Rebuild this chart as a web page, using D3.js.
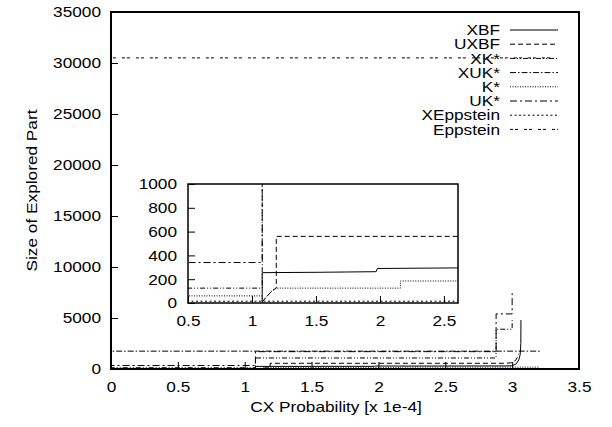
<!DOCTYPE html>
<html>
<head>
<meta charset="utf-8">
<script src="https://cdn.jsdelivr.net/npm/d3@7/dist/d3.min.js"></script>
<style>
  body { margin: 0; background: #fff; }
  text { font-family: "Liberation Sans", Arial, Helvetica, sans-serif; font-size: 15px; fill: #000; }
</style>
</head>
<body>
<div id="chart"></div>
<script>
//////////
// DATA //
//////////

var seriesNames = ["XBF", "UXBF", "XK*", "XUK*", "K*", "UK*", "XEppstein", "Eppstein"];

// each series is a step curve (x in 1e-4)
var xbfX = [1.08, 1.08, 1.5, 1.97, 1.98, 2.6, 2.95, 3.0, 3.03, 3.05, 3.06, 3.065, 3.066];
var xbfY = [0, 255, 258, 263, 290, 295, 300, 320, 500, 900, 1400, 2500, 4800];

var uxbfX = [1.08, 1.12, 1.16, 1.19, 1.19, 2.95, 3.0, 3.03, 3.05];
var uxbfY = [10, 60, 105, 125, 560, 560, 620, 900, 1500];

var xkX = [0, 0, 1.08, 1.08, 2.88, 2.88, 3.0, 3.0];
var xkY = [0, 125, 125, 1080, 1080, 3900, 3900, 4800];

var xukX = [0, 0, 3.22];
var xukY = [0, 1750, 1750];

var kX = [0, 1.08, 1.08, 1.12, 1.16, 1.19, 2.16, 2.16, 3.2];
var kY = [60, 60, 10, 60, 105, 125, 125, 185, 185];

var ukX = [0, 0, 1.08, 1.08, 2.88, 2.88, 3.0, 3.0];
var ukY = [0, 340, 340, 1700, 1700, 5400, 5400, 7700];

var xeppX = [0, 3.2];
var xeppY = [15, 15];

var eppX = [0, 0, 3.3];
var eppY = [0, 30500, 30500];

var xTicks = [0, 0.5, 1, 1.5, 2, 2.5, 3, 3.5];
var yTicks = [0, 5000, 10000, 15000, 20000, 25000, 30000, 35000];
var insetXTicks = [0.5, 1, 1.5, 2, 2.5];
var insetYTicks = [0, 200, 400, 600, 800, 1000];

var seriesX = [xbfX, uxbfX, xkX, xukX, kX, ukX, xeppX, eppX];
var seriesY = [xbfY, uxbfY, xkY, xukY, kY, ukY, xeppY, eppY];

// gnuplot-ish dash styles
var dashes = {
  "XBF": null,
  "UXBF": "5,3",
  "XK*": "5,2,1,2,1,2",
  "XUK*": "6,2,1.5,2",
  "K*": "1,1.5",
  "UK*": "7,3,2,3",
  "XEppstein": "2,2.5",
  "Eppstein": "3,2,3,6"
};

var series = seriesNames.map(function (name, i) {
  return {
    name: name,
    points: seriesX[i].map(function (x, j) { return [x, seriesY[i][j]]; })
  };
});

//////////////////////////////
// SVG AND GRAPH DIMENSIONS //
//////////////////////////////

var svgWidth = 612, svgHeight = 427;
var margin = { top: 12, right: 33, bottom: 58, left: 111 };
var width = svgWidth - margin.left - margin.right,
    height = svgHeight - margin.top - margin.bottom;

var svg = d3.select("#chart")
  .append("svg")
  .attr("width", svgWidth)
  .attr("height", svgHeight);

var g = svg.append("g")
  .attr("transform", "translate(" + margin.left + "," + margin.top + ")");

var x = d3.scaleLinear().domain([0, 3.5]).range([0, width]);
var y = d3.scaleLinear().domain([0, 35000]).range([height, 0]);

svg.append("defs").append("clipPath")
  .attr("id", "clipMain")
  .append("rect")
  .attr("width", width)
  .attr("height", height);

//////////
// AXES //
//////////

function styleAxis(sel) {
  sel.select(".domain").remove();
  sel.selectAll(".tick line").attr("stroke", "#000").attr("stroke-width", 1);
  sel.selectAll(".tick text").style("font-size", "15px").attr("fill", "#000");
}

g.append("g")
  .attr("transform", "translate(0," + height + ")")
  .call(d3.axisBottom(x).tickValues(xTicks).tickFormat(d3.format("")).tickSizeInner(-7).tickPadding(12))
  .call(styleAxis);

g.append("g")
  .call(d3.axisLeft(y).tickValues(yTicks).tickFormat(d3.format("")).tickSizeInner(-7).tickPadding(10))
  .call(styleAxis);

svg.append("text")
  .attr("transform", "translate(32," + (margin.top + height / 2) + ") rotate(-90) scale(1.15,1)")
  .attr("text-anchor", "middle")
  .attr("dy", "0.35em")
  .text("Size of Explored Part");

svg.append("text")
  .attr("x", 336)
  .attr("y", 412)
  .attr("text-anchor", "middle")
  .text("CX Probability [x 1e-4]");

///////////
// LINES //
///////////

var line = d3.line()
  .x(function (d) { return x(d[0]); })
  .y(function (d) { return y(d[1]); });

g.append("g")
  .attr("clip-path", "url(#clipMain)")
  .selectAll("path")
  .data(series)
  .enter().append("path")
  .attr("d", function (d) { return line(d.points); })
  .attr("fill", "none")
  .attr("stroke", "#000")
  .attr("stroke-width", 1)
  .attr("stroke-dasharray", function (d) { return dashes[d.name]; });

g.append("rect")
  .attr("width", width)
  .attr("height", height)
  .attr("fill", "none")
  .attr("stroke", "#000")
  .attr("stroke-width", 2);

////////////
// LEGEND //
////////////

var legend = svg.append("g").attr("transform", "translate(500,30)");

var rows = legend.selectAll("g")
  .data(series)
  .enter().append("g")
  .attr("transform", function (d, i) { return "translate(0," + (i * 14.2) + ")"; });

rows.append("text")
  .attr("text-anchor", "end")
  .attr("dy", "0.35em")
  .text(function (d) { return d.name; });

rows.append("line")
  .attr("x1", 10)
  .attr("x2", 58)
  .attr("stroke", "#000")
  .attr("stroke-width", 1)
  .attr("stroke-dasharray", function (d) { return dashes[d.name]; });

///////////
// INSET //
///////////

var inset = { left: 188, top: 184, right: 458, bottom: 303 };
var iw = inset.right - inset.left, ih = inset.bottom - inset.top;

var ix = d3.scaleLinear().domain([0.5, 2.61]).range([0, iw]);
var iy = d3.scaleLinear().domain([0, 1000]).range([ih, 0]);

svg.append("defs").append("clipPath")
  .attr("id", "clipInset")
  .append("rect")
  .attr("width", iw)
  .attr("height", ih);

var gi = svg.append("g")
  .attr("transform", "translate(" + inset.left + "," + inset.top + ")");

gi.append("rect")
  .attr("width", iw)
  .attr("height", ih)
  .attr("fill", "#fff");

gi.append("g")
  .attr("transform", "translate(0," + ih + ")")
  .call(d3.axisBottom(ix).tickValues(insetXTicks).tickFormat(d3.format("")).tickSizeInner(-7).tickPadding(12))
  .call(styleAxis);

gi.append("g")
  .call(d3.axisLeft(iy).tickValues(insetYTicks).tickFormat(d3.format("")).tickSizeInner(-7).tickPadding(11))
  .call(styleAxis);

var iline = d3.line()
  .x(function (d) { return ix(d[0]); })
  .y(function (d) { return iy(d[1]); });

gi.append("g")
  .attr("clip-path", "url(#clipInset)")
  .selectAll("path")
  .data(series)
  .enter().append("path")
  .attr("d", function (d) { return iline(d.points); })
  .attr("fill", "none")
  .attr("stroke", "#000")
  .attr("stroke-width", 1)
  .attr("stroke-dasharray", function (d) { return dashes[d.name]; });

gi.append("rect")
  .attr("width", iw)
  .attr("height", ih)
  .attr("fill", "none")
  .attr("stroke", "#000")
  .attr("stroke-width", 1.5);

// the reference font is drawn a little wider than Liberation Sans
svg.selectAll("text").each(function () {
  if (this.getAttribute("transform")) return;
  var anchor = getComputedStyle(this).textAnchor;
  var origin = anchor === "end" ? "right center" : anchor === "start" ? "left center" : "center center";
  d3.select(this)
    .style("transform-box", "fill-box")
    .style("transform-origin", origin)
    .style("transform", "scaleX(1.15)");
});
</script>
</body>
</html>
